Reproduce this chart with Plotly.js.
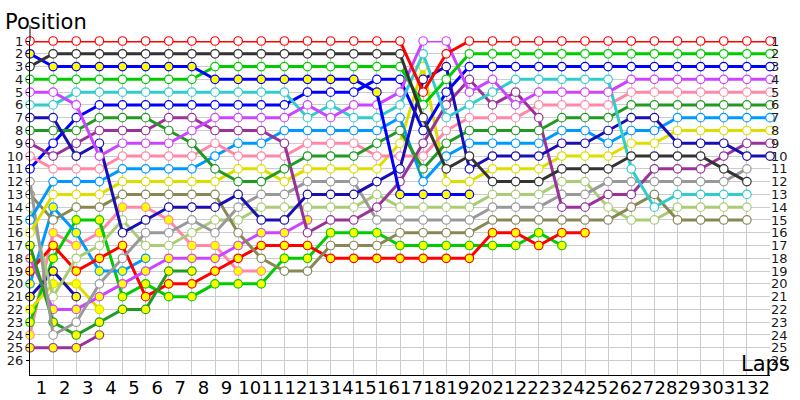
<!DOCTYPE html>
<html>
<head>
<meta charset="utf-8">
<script src="https://cdn.plot.ly/plotly-3.0.1.min.js"></script>
<style>html,body{margin:0;padding:0;background:#fff;}#chart{width:800px;height:400px;}</style>
</head>
<body>
<div id="chart"></div>
<script>
// Lap tick labels (x axis) and position labels (y axes)
const lapTicks = [1,2,3,4,5,6,7,8,9,10,11,12,13,14,15,16,17,18,19,20,21,22,23,24,25,26,27,28,29,30,31,32];
const lapTickText = ['1','2','3','4','5','6','7','8','9','10','11','12','13','14','15','16','17','18','19','20','21','22','23','24','25','26','27','28','29','30','31','32'];
const posTicks = [1,2,3,4,5,6,7,8,9,10,11,12,13,14,15,16,17,18,19,20,21,22,23,24,25,26];
const posTickText = ['1','2','3','4','5','6','7','8','9','10','11','12','13','14','15','16','17','18','19','20','21','22','23','24','25','26'];

// Positions per lap (index = lap number, starting at lap 0)
const redA     = [1,1,1,1,1,1,1,1,1,1,1,1,1,1,1,1,1,5,2,1,1,1,1,1,1,1,1,1,1,1,1,1,1];
const darkGray = [3,2,2,2,2,2,2,2,2,2,2,2,2,2,2,2,2,7,11,10,12,12,12,11,11,11,10,10,10,10,11,12];
const blueY    = [2,3,3,3,3,3,3,3,4,4,4,4,4,4,4,5,13,13,13,13];
const greenA   = [4,4,4,4,4,4,4,4,3,3,3,3,3,3,3,3,3,6,4,2,2,2,2,2,2,2,2,2,2,2,2,2,2];
const violet   = [5,5,6,10,9,9,9,8,7,7,7,7,6,7,6,6,5,1,1,5,4,6,5,5,5,5,4,4,4,4,4,4,4];
const cyan     = [6,6,5,5,5,5,5,5,5,5,5,5,7,6,7,7,6,2,7,6,5,4,4,4,4,4,11,14,13,13,13,13];
const navy     = [7,7,10,9,16,15,14,14,14,13,15,15,13,13,13,12,11,4,3,11,10,10,10,9,9,8,7,7,9,9,9,10,10];
const darkGreen= [8,8,8,7,7,7,8,9,11,12,12,11,10,10,10,9,8,11,9,8,8,8,8,7,7,7,6,6,6,6,6,6,6];
const purple   = [9,10,9,8,8,8,7,7,8,8,8,9,16,15,15,14,12,9,6,4,6,5,7,14,14,13,13,11,11,11,10,9,9];
const pink     = [10,11,11,11,10,10,10,10,9,10,10,10,9,9,9,10,10,10,8,7,7,7,6,6,6,6,5,5,5,5,5,5,5];
const blueA    = [11,9,7,6,6,6,6,6,6,6,6,6,5,5,5,4,4,8,5,3,3,3,3,3,3,3,3,3,3,3,3,3,3];
const sky      = [15,12,12,12,11,11,11,11,10,9,9,8,8,8,8,8,7,12,10,9,9,9,9,8,8,9,8,8,7,7,7,7,7];
const yellowA  = [16,13,13,13,12,12,12,12,12,11,11,12,11,11,11,11,9,3,12,12,11,11,11,10,10,10,9,9,8,8,8,8,8];
const lightGray= [12,24,23,20,18,16,16,15,16,14,13,13,12,12,12,15,15,15,15,15,14,14,14,13,13,12,12,12,12,12,12,11];
const olive    = [13,15,14,14,13,13,13,13,13,16,18,19,19,17,17,17,16,16,16,16,15,15,15,15,15,15,14,13,15,15,15,15];
const lightGrn = [14,21,18,17,15,17,17,16,15,15,14,14,14,14,14,13,14,14,14,14,13,13,13,12,12,14,15,15,14,14,14,14];
const darkGrnY = [17,23,24,23,22,22,19,19];
const violetY  = [18,22,22,21,20,19,18,18,18,17,16,16,15];
const redY     = [19,17,19,18,17,21,20,20,19,18,17,17,17,18,18,18,18,18,18,18,16,16,17,16,16];
const skyY     = [20,14,16,19,19,18];
const navyY    = [21,19,21];
const yellowY  = [22,20,20,22];
const greenY   = [23,18,15,15,21,20,21,21,20,20,20,18,18,16,16,16,17,17,17,17,17,17,16,17];
const pinkY    = [24,16,17,16,14,14,15,17,17,19,19];
const purpleY  = [25,25,25,24];

// Series: [positions, line colour, marker fill]
const series = [
  [purpleY,  '#993399', '#ffff00'],
  [pinkY,    '#ff88aa', '#ffff00'],
  [greenY,   '#00cc00', '#ffff00'],
  [yellowY,  '#dddd00', '#ffff00'],
  [navyY,    '#1a0fb0', '#ffff00'],
  [skyY,     '#0099ff', '#ffff00'],
  [redY,     '#ff0000', '#ffff00'],
  [violetY,  '#cc44ff', '#ffff00'],
  [darkGrnY, '#229922', '#ffff00'],
  [lightGrn, '#aacc77', '#ffffff'],
  [olive,    '#888855', '#ffffff'],
  [lightGray,'#999999', '#ffffff'],
  [yellowA,  '#dddd00', '#ffffff'],
  [sky,      '#0099ff', '#ffffff'],
  [blueA,    '#0000ff', '#ffffff'],
  [pink,     '#ff88aa', '#ffffff'],
  [purple,   '#993399', '#ffffff'],
  [darkGreen,'#229922', '#ffffff'],
  [navy,     '#1a0fb0', '#ffffff'],
  [cyan,     '#33cccc', '#ffffff'],
  [violet,   '#cc44ff', '#ffffff'],
  [greenA,   '#00cc00', '#ffffff'],
  [blueY,    '#0000ff', '#ffff00'],
  [darkGray, '#333333', '#ffffff'],
  [redA,     '#ff0000', '#ffffff']
];

const traces = series.map(function (s) {
  const ys = s[0];
  return {
    type: 'scatter',
    mode: 'lines+markers',
    x: ys.map(function (_, i) { return i; }),
    y: ys,
    line: {color: s[1], width: 3},
    marker: {size: 8.5, color: s[2], line: {color: s[1], width: 1.2}},
    cliponaxis: false,
    showlegend: false,
    hoverinfo: 'skip'
  };
});

const font = 'DejaVu Sans, Verdana, sans-serif';
const yRange = [27.13, 1];
const xRange = [0, 32];
// lap labels sit midway between the lap grid lines
const lapLabelPos = lapTicks.map(function (v) { return v - 0.5; });

const layout = {
  width: 800,
  height: 400,
  margin: {l: 30, r: 30, t: 41, b: 25, pad: 0},
  paper_bgcolor: '#ffffff',
  plot_bgcolor: '#ffffff',
  showlegend: false,
  xaxis: {
    range: xRange,
    tickmode: 'array',
    tickvals: lapTicks,
    showticklabels: false,
    showgrid: true,
    gridcolor: '#cccccc',
    gridwidth: 1,
    zeroline: false,
    showline: true,
    linecolor: '#000000',
    linewidth: 1,
    ticks: '',
    fixedrange: true
  },
  xaxis2: {
    overlaying: 'x',
    anchor: 'y',
    side: 'bottom',
    range: xRange,
    tickmode: 'array',
    tickvals: lapLabelPos,
    ticktext: lapTickText,
    tickangle: 0,
    showgrid: false,
    zeroline: false,
    showline: false,
    ticks: '',
    tickfont: {family: font, size: 18, color: '#000000'},
    fixedrange: true
  },
  yaxis: {
    range: yRange,
    tickmode: 'array',
    tickvals: posTicks,
    ticktext: posTickText,
    showgrid: true,
    gridcolor: '#cccccc',
    gridwidth: 1,
    zeroline: false,
    showline: true,
    linecolor: '#000000',
    linewidth: 1,
    ticks: 'outside',
    ticklen: 3,
    tickcolor: '#000000',
    tickfont: {family: font, size: 13, color: '#1a1a1a'},
    fixedrange: true
  },
  yaxis2: {
    overlaying: 'y',
    anchor: 'x',
    side: 'right',
    range: yRange,
    tickmode: 'array',
    tickvals: posTicks,
    ticktext: posTickText,
    showgrid: false,
    zeroline: false,
    showline: false,
    ticks: '',
    tickfont: {family: font, size: 13, color: '#1a1a1a'},
    fixedrange: true
  },
  shapes: [
    {type: 'line', xref: 'paper', yref: 'paper', x0: 0, x1: 0, y0: 1, y1: 1.047,
     line: {color: '#000000', width: 1}}
  ],
  annotations: [
    {text: 'Position', xref: 'paper', yref: 'paper', x: -0.036, y: 1.098,
     xanchor: 'left', yanchor: 'top', showarrow: false,
     font: {family: font, size: 21, color: '#000000'}},
    {text: 'Laps', xref: 'paper', yref: 'paper', x: 1.03, y: -0.01,
     xanchor: 'right', yanchor: 'bottom', showarrow: false,
     font: {family: font, size: 21, color: '#000000'}}
  ]
};

// invisible helper traces so the label-only axes are drawn
traces.push({type: 'scatter', mode: 'markers', x: [xRange[0]], y: [posTicks[0]], xaxis: 'x', yaxis: 'y2',
  marker: {opacity: 0}, showlegend: false, hoverinfo: 'skip'});
traces.push({type: 'scatter', mode: 'markers', x: [xRange[0]], y: [posTicks[0]], xaxis: 'x2', yaxis: 'y',
  marker: {opacity: 0}, showlegend: false, hoverinfo: 'skip'});

Plotly.newPlot('chart', traces, layout, {staticPlot: true, displayModeBar: false});
</script>
</body>
</html>
